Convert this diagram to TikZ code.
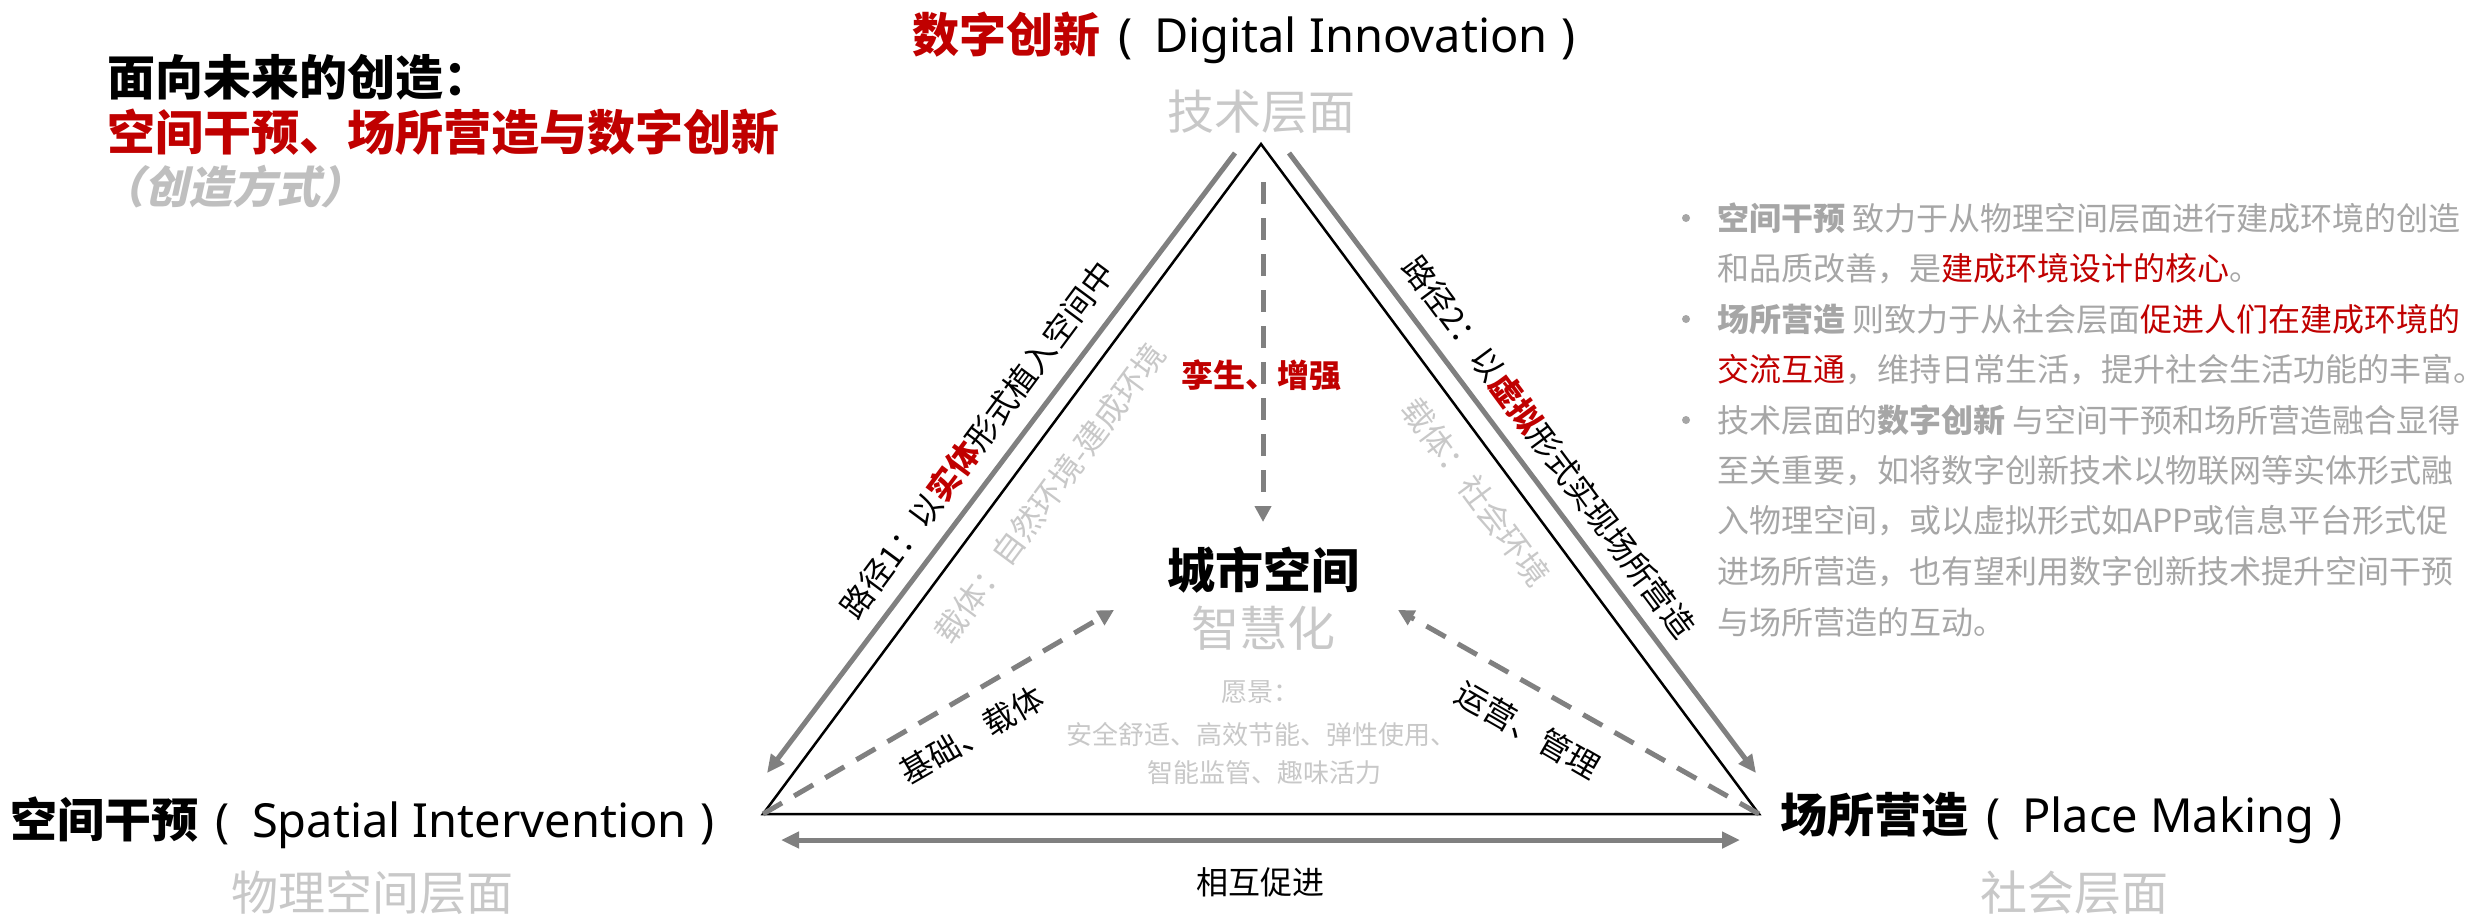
\documentclass[tikz,border=0pt]{standalone}
\usepackage{fontspec}
\setmainfont{Noto Sans CJK SC}
\newfontfamily\latinfont{Noto Sans}
\newfontfamily\slantfont[FakeSlant=0.22]{Noto Sans CJK SC}
\usetikzlibrary{arrows.meta}
\definecolor{myred}{RGB}{192,0,0}
\definecolor{arrowgray}{RGB}{128,128,128}
\definecolor{textgray}{RGB}{166,166,166}
\definecolor{lightgraytwo}{RGB}{200,200,200}
\definecolor{slantgray}{RGB}{191,191,191}
\newcommand{\fsz}[1]{\fontsize{#1}{#1}\selectfont}
\newcommand{\lparen}{\hspace{18pt}{\latinfont(}\hspace{22pt}}
\newcommand{\rparen}{\hspace{14pt}{\latinfont)}}
\begin{document}
\begin{tikzpicture}[x=1pt,y=-1pt,
  every node/.style={inner sep=0pt, outer sep=0pt},
  tri/.style={line width=2.5pt, line join=miter},
  sidearrow/.style={draw=arrowgray, line width=5pt, -{Triangle[length=18pt,width=16pt]}},
  dasharrow/.style={draw=arrowgray, line width=5pt, dash pattern=on 22pt off 14pt, -{Triangle[length=16pt,width=16pt]}},
  mutualarrow/.style={draw=arrowgray, line width=5pt, {Triangle[length=18pt,width=16pt]}-{Triangle[length=18pt,width=16pt]}},
  bl/.style={anchor=west, text=textgray, font=\fsz{32}},
  dot/.style={circle, fill=textgray, minimum size=8pt},
  layer/.style={text=lightgraytwo, font=\fsz{47}},
  edgelabel/.style={font=\fsz{32}},
]
\useasboundingbox (0,0) rectangle (2468,914);
\fill[white] (0,0) rectangle (2468,914);

% titles
\node[anchor=west] (t1) at (107,77) {\fsz{48}\bfseries 面向未来的创造：};
\node[anchor=west, text=myred] (t2) at (107,132) {\fsz{48}\bfseries 空间干预、场所营造与数字创新};
\node[anchor=west, text=slantgray] (t3) at (100,187) {\fsz{44}\slantfont\bfseries （创造方式）};

% vertex labels
\node[anchor=west] (dn) at (912,38) {\fsz{47}{\bfseries\color{myred}数字创新}\lparen{\latinfont Digital Innovation}\rparen};
\node[layer] (tech) at (1261,112) {技术层面};
\node[anchor=west] (si) at (10,823) {\fsz{47}{\bfseries 空间干预}\lparen{\latinfont Spatial Intervention}\rparen};
\node[layer] (phys) at (372,893) {物理空间层面};
\node[anchor=west] (pm) at (1780,818) {\fsz{47}{\bfseries 场所营造}\lparen{\latinfont Place Making}\rparen};
\node[layer] (soc) at (2074,893) {社会层面};

% triangle
\coordinate (A) at (1261,144);
\coordinate (B) at (763,814);
\coordinate (C) at (1759,814);
\draw[tri] (A) -- (B) -- (C) -- cycle;

% side arrows
\coordinate (gl1) at (1235,153);
\coordinate (gl2) at (767,773);
\coordinate (gr1) at (1289,153);
\coordinate (gr2) at (1756,773);
\draw[sidearrow] (gl1) -- (gl2);
\draw[sidearrow] (gr1) -- (gr2);

% bottom mutual arrow
\coordinate (m1) at (781,840);
\coordinate (m2) at (1740,840);
\draw[mutualarrow] (m1) -- (m2);
\node[edgelabel] (mutual) at (1260,882) {相互促进};

% centre
\node (city) at (1263,570) {\fsz{48}\bfseries 城市空间};
\node[text=lightgraytwo] (smart) at (1263,628) {\fsz{48}智慧化};
\node[text=lightgraytwo] (v1) at (1260,692) {\fsz{26}愿景：};
\node[text=lightgraytwo] (v2) at (1261,735) {\fsz{26}安全舒适、高效节能、弹性使用、};
\node[text=lightgraytwo] (v3) at (1264,773) {\fsz{26}智能监管、趣味活力};

% dashed arrows
\coordinate (dA) at (1263,182);
\coordinate (dAe) at (1263,522);
\coordinate (dBe) at (1114,610);
\coordinate (dCe) at (1398,610);
\draw[dasharrow] (dA) -- (dAe);
\draw[dasharrow] (B) -- (dBe);
\draw[dasharrow] (C) -- (dCe);
\node[text=myred] (twin) at (1261,375) {\fsz{32}\bfseries 孪生、增强};

% edge labels
\node[edgelabel, rotate=53.4] (p1) at (977,440) {路径1：以{\color{myred}\bfseries 实体}形式植入空间中};
\node[edgelabel, rotate=-53.4] (p2) at (1549,447) {路径2：以{\color{myred}\bfseries 虚拟}形式实现场所营造};
\node[edgelabel, rotate=53.4, text=lightgraytwo] (c1) at (1050,493) {载体：自然环境-建成环境};
\node[edgelabel, rotate=-53.4, text=lightgraytwo] (c2) at (1476,492) {载体：社会环境};
\node[edgelabel, rotate=30] (base) at (972,735) {基础、载体};
\node[edgelabel, rotate=-30] (ops) at (1528,730) {运营、管理};

% bullet text
\node[dot] (d1) at (1686,218) {};
\node[dot] (d3) at (1686,319) {};
\node[dot] (d5) at (1686,420) {};
\node[bl] (b1) at (1717,218) {{\bfseries 空间干预} 致力于从物理空间层面进行建成环境的创造};
\node[bl] (b2) at (1717,268.5) {和品质改善，是{\color{myred}建成环境设计的核心}。};
\node[bl] (b3) at (1717,319) {{\bfseries 场所营造} 则致力于从社会层面{\color{myred}促进人们在建成环境的}};
\node[bl] (b4) at (1717,369.5) {{\color{myred}交流互通}，维持日常生活，提升社会生活功能的丰富。};
\node[bl] (b5) at (1717,420) {技术层面的{\bfseries 数字创新} 与空间干预和场所营造融合显得};
\node[bl] (b6) at (1717,470.5) {至关重要，如将数字创新技术以物联网等实体形式融};
\node[bl] (b7) at (1717,521) {入物理空间，或以虚拟形式如APP或信息平台形式促};
\node[bl] (b8) at (1717,571.5) {进场所营造，也有望利用数字创新技术提升空间干预};
\node[bl] (b9) at (1717,622) {与场所营造的互动。};
\end{tikzpicture}
\end{document}
